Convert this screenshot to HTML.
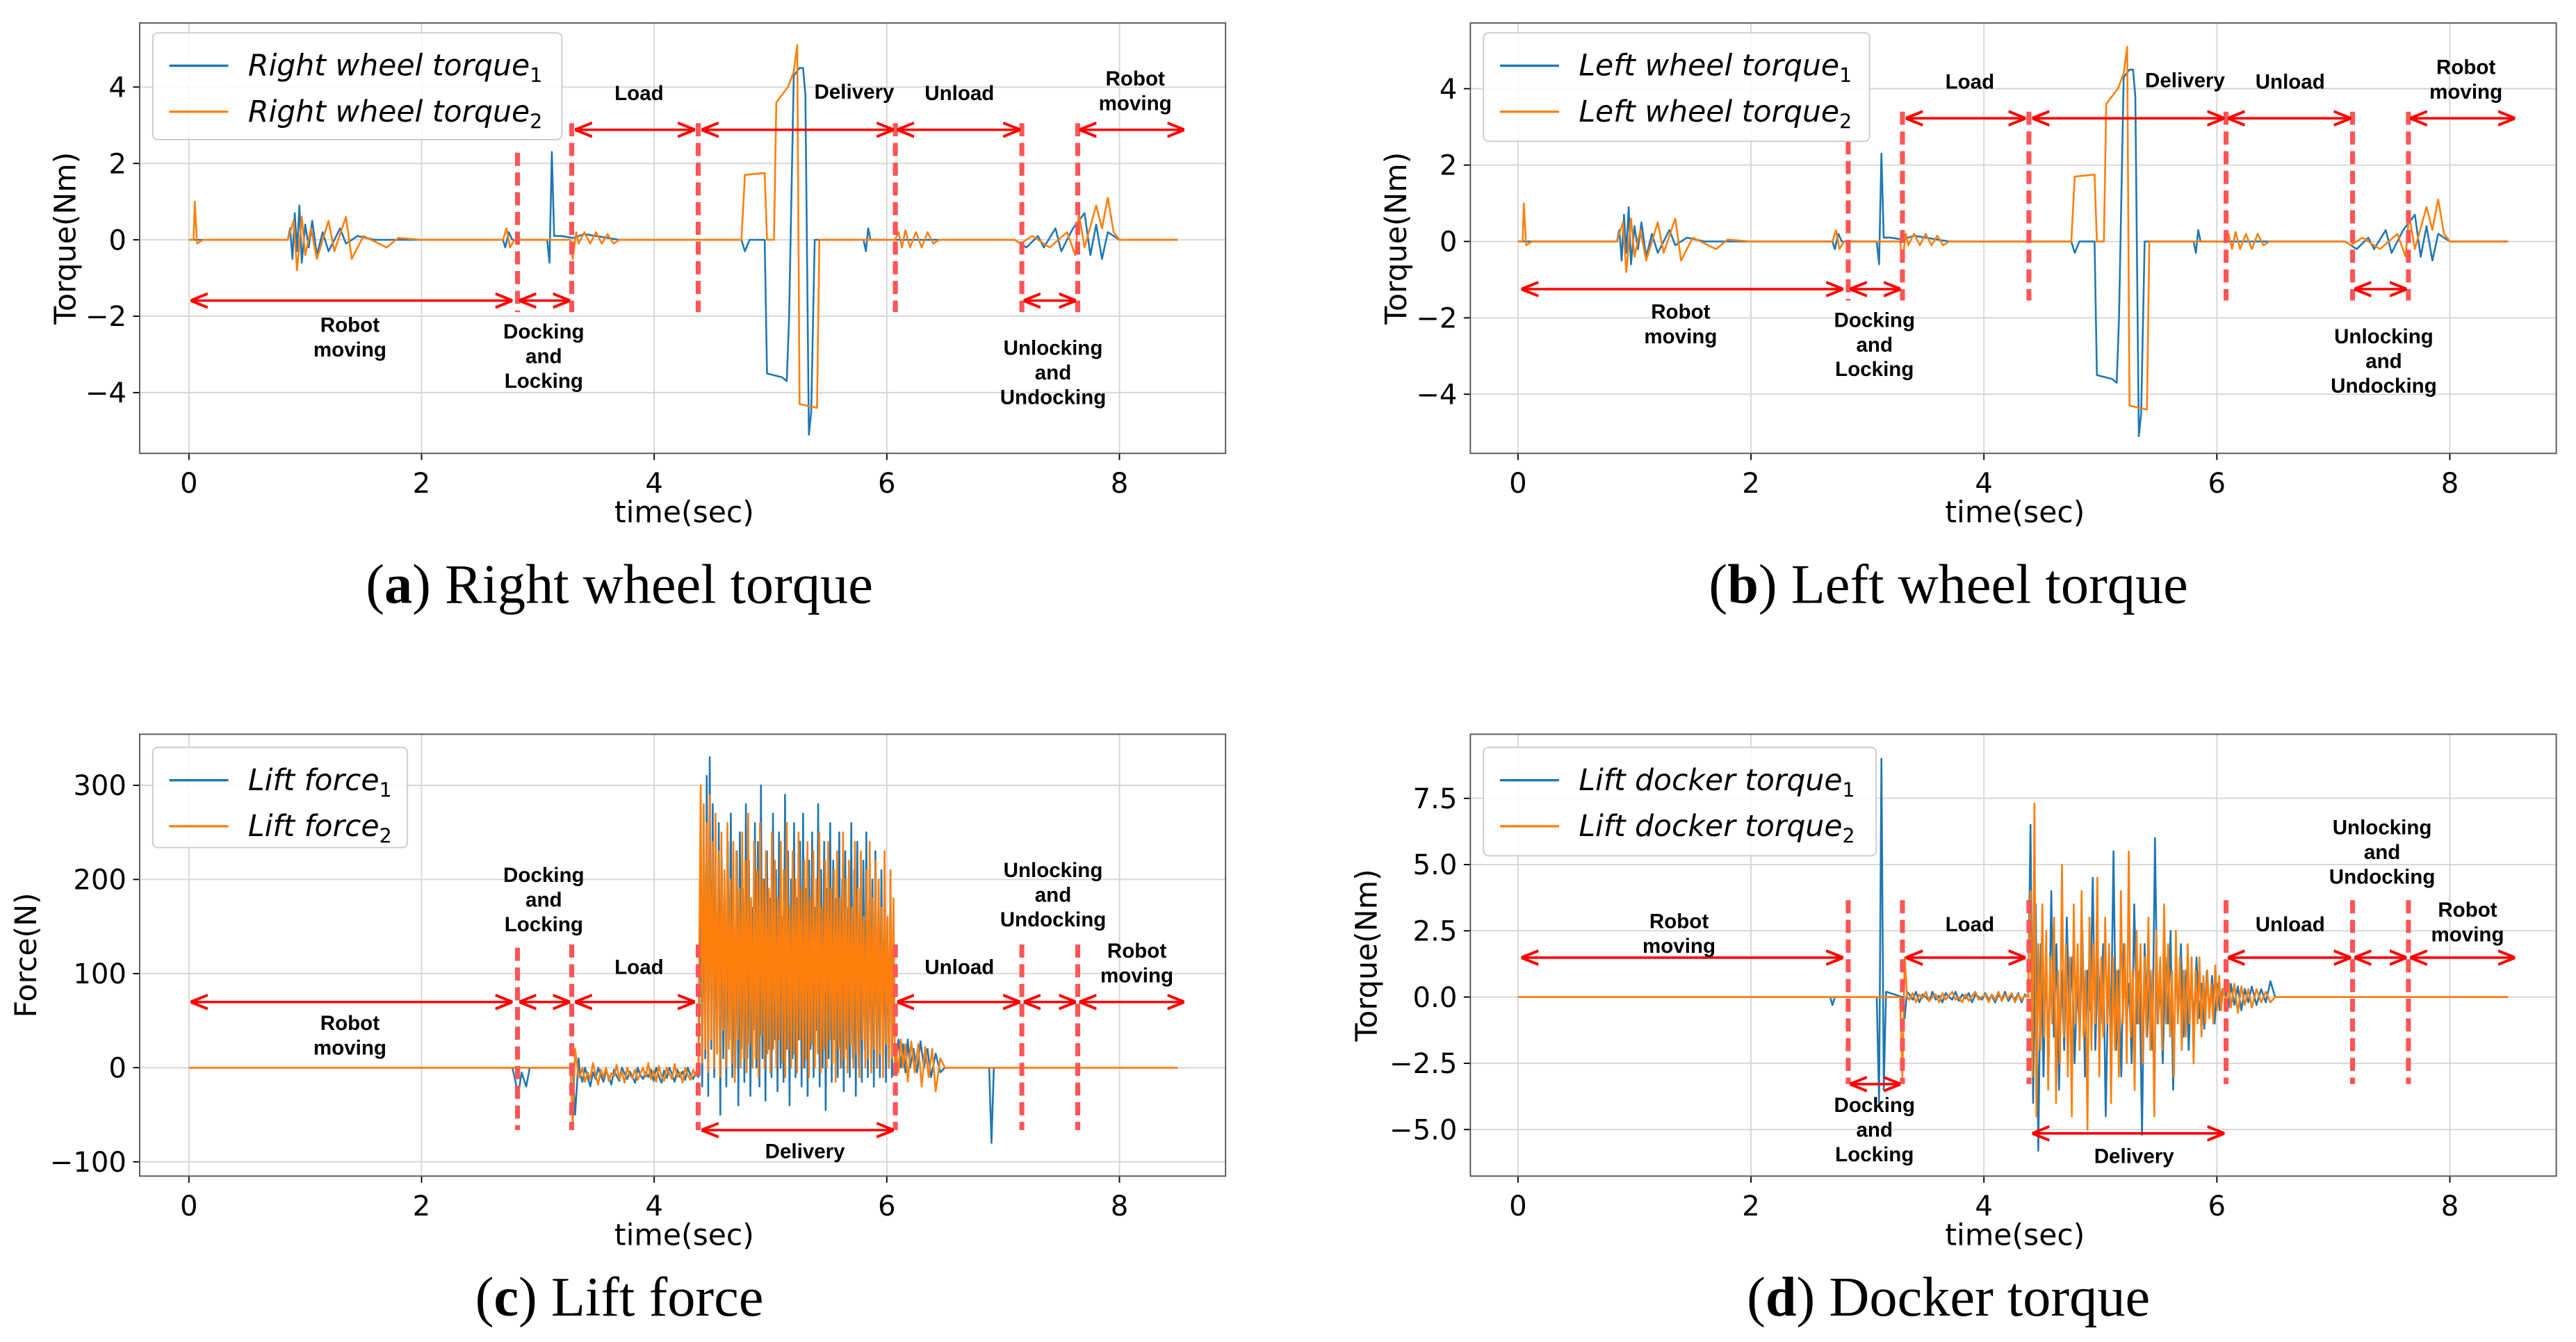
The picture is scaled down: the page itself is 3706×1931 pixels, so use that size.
<!DOCTYPE html>
<html><head><meta charset="utf-8"><style>
html,body{margin:0;padding:0;background:#fff;}
svg{display:block;}
</style></head><body>
<svg id="fig" width="3706" height="1931" viewBox="0 0 1568 817" preserveAspectRatio="none" xmlns="http://www.w3.org/2000/svg">
<defs>
<marker id="ah" viewBox="0 0 10 10" refX="9" refY="5" markerWidth="7" markerHeight="7" orient="auto-start-reverse"><path d="M0,1 L10,5 L0,9" fill="none" stroke="#f00" stroke-width="1.6"/></marker>
</defs>
<g id="root"></g>
<text x="377" y="367" font-family="Liberation Serif, serif" font-size="34" text-anchor="middle">(<tspan font-weight="bold">a</tspan>) Right wheel torque</text>
<text x="1186" y="367" font-family="Liberation Serif, serif" font-size="34" text-anchor="middle">(<tspan font-weight="bold">b</tspan>) Left wheel torque</text>
<text x="377" y="801" font-family="Liberation Serif, serif" font-size="34" text-anchor="middle">(<tspan font-weight="bold">c</tspan>) Lift force</text>
<text x="1186" y="801" font-family="Liberation Serif, serif" font-size="34" text-anchor="middle">(<tspan font-weight="bold">d</tspan>) Docker torque</text>
</svg>
<script>
// ---- data ----
const xTicks = [0, 2, 4, 6, 8];
const wheelYTicks = [-4, -2, 0, 2, 4];
const liftYTicks = [-100, 0, 100, 200, 300];
const dockYTicks = [-5.0, -2.5, 0.0, 2.5, 5.0, 7.5];
const dockYLabels = ["−5.0", "−2.5", "0.0", "2.5", "5.0", "7.5"];

// wheel torque (t, value pairs)
const wheel1 = [0,0, 0.85,0, 0.87,0.3, 0.89,-0.5, 0.91,0.7, 0.93,-0.3, 0.95,0.9, 0.97,-0.6, 1.0,0.4, 1.03,-0.2, 1.06,0.5, 1.1,-0.4, 1.15,0.2, 1.2,-0.3, 1.3,0.3, 1.35,-0.1, 1.45,0.1, 1.6,0, 2.7,0, 2.72,-0.2, 2.75,0.2, 2.78,0, 3.08,0, 3.1,-0.6, 3.12,2.3, 3.14,0.1, 3.2,0.1, 3.3,0.05, 3.4,0.15, 3.5,0.1, 3.7,0, 4.75,0, 4.78,-0.3, 4.82,0, 4.95,0, 4.97,-3.5, 5.1,-3.6, 5.14,-3.7, 5.16,-2.0, 5.2,4.3, 5.25,4.5, 5.28,4.5, 5.3,3.8, 5.33,-5.1, 5.35,-4.5, 5.38,0, 5.8,0, 5.82,-0.3, 5.84,0.3, 5.86,0, 6.1,0, 7.1,0, 7.2,-0.2, 7.3,0.1, 7.35,-0.2, 7.45,0.3, 7.5,-0.3, 7.6,0.3, 7.7,0.7, 7.75,-0.4, 7.8,0.4, 7.85,-0.5, 7.9,0.2, 8.0,0, 8.5,0];
const wheel2 = [0,0, 0.04,0, 0.05,1.0, 0.07,-0.1, 0.12,0, 0.85,0, 0.9,0.5, 0.93,-0.8, 0.97,0.6, 1.0,-0.4, 1.05,0.3, 1.1,-0.5, 1.2,0.5, 1.25,-0.3, 1.35,0.6, 1.4,-0.5, 1.5,0.1, 1.7,-0.2, 1.8,0.05, 2.0,0, 2.7,0, 2.73,0.3, 2.76,-0.2, 2.8,0, 3.28,0, 3.3,-0.5, 3.33,0.2, 3.35,-0.1, 3.4,0.2, 3.45,-0.1, 3.5,0.2, 3.55,-0.1, 3.6,0.15, 3.65,-0.1, 3.7,0, 4.75,0, 4.78,1.7, 4.95,1.75, 4.97,0, 5.03,0, 5.05,3.6, 5.15,4.0, 5.2,4.4, 5.23,5.1, 5.25,-4.3, 5.4,-4.4, 5.42,0, 6.07,0, 6.1,0.2, 6.13,-0.2, 6.16,0.25, 6.2,-0.2, 6.25,0.2, 6.3,-0.2, 6.35,0.2, 6.4,-0.1, 6.45,0, 7.1,0, 7.15,-0.1, 7.25,0.1, 7.4,-0.2, 7.55,0.2, 7.62,-0.4, 7.65,0.7, 7.7,-0.2, 7.8,0.9, 7.85,0.3, 7.9,1.1, 7.95,0.2, 8.0,0, 8.5,0];

// lift force
const liftPre1 = [0,0, 2.78,0, 2.8,-10, 2.83,-30, 2.86,-5, 2.9,-20, 2.93,0, 3.3,0, 3.32,-50, 3.35,10];
const liftPre2 = [0,0, 3.28,0, 3.3,-60, 3.32,20, 3.35,-10];
const liftLoadStart = 3.36, liftLoadEnd = 4.38;
const liftLoad1 = [-5,-15,0,-10,-20,-5,-12,0,-8,-15,-3,-10,-18,-2,-9,-14,0,-6,-12,-4,-10,-16,0,-8,-12,-5,-10,-2,-14,0,-9,-16,-3,-11,0,-7,-15,-2,-10,-4,-13,0,-8,-12,-5,-10];
const liftLoad2 = [-10,0,-15,-5,-12,5,-8,-18,-2,-10,0,-14,-6,-9,3,-12,-4,-16,0,-8,-11,-2,-13,-6,0,-10,5,-12,-3,-15,2,-9,-14,0,-7,-12,4,-10,-5,-16,0,-8,-13,-2,-9,5];
const liftDenseStart = 4.4, liftDenseEnd = 6.07;
const liftDense1 = [200,-20,250,10,310,-30,330,20,280,-10,200,40,260,-50,220,10,180,-20,240,30,270,-10,160,0,230,-40,250,20,190,-15,280,10,220,-30,170,40,260,0,240,-20,300,10,200,-35,230,20,180,-10,270,30,210,-25,250,0,160,-15,290,20,230,-40,200,10,260,-10,180,30,240,-20,270,0,190,-30,220,20,250,-10,170,40,280,-20,210,0,240,-45,190,10,260,-15,220,30,180,-10,250,0,200,-25,230,20,170,-10,260,10,210,-30,240,0,190,-15,220,20,250,-10,180,30,200,-20,230,0,170,-10,210,20,190,-15,160,0,200,-10,150,0];
const liftDense2 = [300,5,280,20,260,-5,290,30,240,0,270,15,230,-10,250,40,210,0,260,20,200,5,240,-15,230,30,190,0,250,10,220,-5,270,25,180,0,240,10,210,-10,260,35,200,0,230,15,190,-5,250,20,220,0,180,30,240,5,210,-10,260,20,170,0,230,15,200,-5,250,30,190,0,220,10,240,-10,180,25,230,0,200,15,250,-5,170,20,220,0,240,30,190,5,210,-15,230,20,180,0,250,10,200,-5,220,25,170,0,240,15,190,-10,230,30,160,0,210,10,240,-5,180,20,220,0,200,15,170,-10,230,25,160,0,210,10,180,0];
const liftPost1 = [6.08,10, 6.1,30, 6.12,0, 6.14,25, 6.16,-5, 6.18,30, 6.2,0, 6.23,20, 6.26,-5, 6.29,28, 6.32,0, 6.35,20, 6.38,-10, 6.42,15, 6.46,-5, 6.5,0, 6.88,0, 6.9,-80, 6.92,0, 8.5,0];
const liftPost2 = [6.08,20, 6.1,-5, 6.12,30, 6.14,0, 6.16,25, 6.18,-15, 6.21,28, 6.24,-5, 6.27,25, 6.3,-20, 6.33,22, 6.36,-10, 6.39,20, 6.42,-25, 6.46,10, 6.5,0, 8.5,0];

// docker torque
const dockPre1 = [0,0, 2.68,0, 2.7,-0.3, 2.72,0, 3.08,0, 3.1,-4.0, 3.12,9.0, 3.14,-3.5, 3.16,0.2, 3.3,0, 3.32,-0.8, 3.34,0.2];
const dockPre2 = [0,0, 3.28,0, 3.3,-3.0, 3.32,1.5, 3.34,0];
const dockLoadStart = 3.36, dockLoadEnd = 4.38;
const dockLoad1 = [0.1,-0.1,0.2,-0.2,0.1,0,-0.15,0.2,-0.1,0.05,-0.2,0.15,0,-0.1,0.2,-0.15,0.1,-0.05,0.15,-0.2,0.1,0,-0.1,0.15,-0.1,0.05,-0.2,0.1,-0.1,0.2,-0.15,0.05,-0.1,0.15,-0.2,0.1,0];
const dockLoad2 = [-0.1,0.15,-0.2,0.1,-0.05,0.2,-0.15,0,0.1,-0.2,0.15,-0.1,0.05,0.2,-0.1,0,-0.2,0.1,-0.15,0.05,0.2,-0.1,0,0.1,-0.2,0.1,-0.1,0.2,-0.15,0.1,-0.05,0.15,-0.2,0.1,-0.1,0.05,0];
const dockDenseStart = 4.4, dockDenseEnd = 6.07;
const dockDense1 = [6.5,-4.0,3.5,-5.8,2.0,-3.0,1.5,-2.5,4.0,-1.5,2.0,-3.5,1.0,-2.0,3.0,-1.0,1.5,-2.5,0.5,-1.5,2.5,-3.0,1.0,-0.5,4.5,-2.0,1.5,-1.0,2.0,-4.5,0.8,-1.5,5.5,-2.0,1.0,-3.0,2.0,-1.0,0.5,-2.5,3.5,-1.0,1.0,-5.2,2.0,-1.5,1.0,-2.0,6.0,-1.0,0.5,-2.5,1.5,-1.0,2.5,-3.5,1.0,-0.5,2.0,-1.5,1.0,-2.0,0.8,-1.0,1.5,-0.8,0.5,-1.2,1.0,-0.6,0.8,-1.0,0.5,-0.5,0.3,0];
const dockDense2 = [4.0,-3.0,7.3,-4.5,2.0,-2.0,3.5,-1.5,2.5,-3.5,1.5,-1.0,3.0,-4.0,1.0,-2.5,5.0,-1.5,2.0,-3.0,1.5,-4.5,3.5,-1.0,2.0,-2.0,4.0,-1.5,1.0,-5.0,3.0,-2.0,2.0,-1.0,4.5,-3.0,1.5,-1.5,3.0,-1.0,2.0,-4.0,1.5,-2.0,1.0,-3.0,4.0,-1.0,2.0,-2.5,5.5,-1.5,1.0,-3.5,2.5,-1.0,2.0,-2.5,1.5,-1.5,3.0,-2.0,1.0,-4.5,2.5,-1.0,1.5,-2.0,3.5,-1.0,2.0,-1.5,1.0,-3.0,2.5,-1.0,1.5,-2.0,1.0,-1.5,2.0,-1.0,1.5,-2.5,1.0,-1.0,1.5,-1.5,0.8,-1.0,1.0,-0.8,0.5,-1.0,1.2,-0.5,0.8,-0.5,0.3,0];
const dockPost1 = [6.08,0.3, 6.1,-0.4, 6.12,0.5, 6.15,-0.3, 6.18,0.4, 6.21,-0.5, 6.24,0.3, 6.27,-0.2, 6.3,0.4, 6.34,-0.3, 6.38,0.3, 6.42,-0.2, 6.46,0.6, 6.5,0, 8.5,0];
const dockPost2 = [6.08,-0.5, 6.1,0.6, 6.12,-0.4, 6.15,0.5, 6.18,-0.6, 6.21,0.4, 6.24,-0.3, 6.27,0.3, 6.3,-0.4, 6.34,0.3, 6.38,-0.2, 6.42,0.2, 6.46,-0.2, 6.5,0, 8.5,0];

// ---- drawing ----
const NS = "http://www.w3.org/2000/svg";
const root = document.getElementById("root");
const BLUE = "#1f77b4", ORANGE = "#ff7f0e";
function mk(tag, attrs, parent) {
  const e = document.createElementNS(NS, tag);
  for (const k in attrs) e.setAttribute(k, attrs[k]);
  (parent || root).appendChild(e);
  return e;
}
function spanToPairs(t0, t1, vals) {
  const out = [];
  const dt = (t1 - t0) / (vals.length - 1);
  vals.forEach((v, i) => { out.push(t0 + dt * i, v); });
  return out;
}
function pathFromPairs(pairs, sx, sy) {
  let d = "";
  for (let i = 0; i < pairs.length; i += 2) d += (i ? "L" : "M") + sx(pairs[i]).toFixed(2) + "," + sy(pairs[i + 1]).toFixed(2);
  return d;
}

function panel(cfg) {
  const g = mk("g", {});
  
  
  const sx = t => cfg.x0 + t * cfg.px;
  const sy = v => cfg.yz - v * cfg.py;
  xTicks.forEach(t => {
    const l = mk("line", {x1: sx(t), x2: sx(t), y1: cfg.top, y2: cfg.bot, stroke: "#d6d6d6", "stroke-width": 0.8}, g);
    
    
    const tk = mk("line", {x1: sx(t), x2: sx(t), y1: cfg.bot, y2: cfg.bot + 4, stroke: "#000", "stroke-width": 0.8}, g);
    
    
    const tx = mk("text", {x: sx(t), y: cfg.bot + 24, "text-anchor": "middle", "font-size": 17, "font-family": "DejaVu Sans, Liberation Sans, sans-serif"}, g);
    tx.textContent = t;
    
    
  });
  cfg.yTicks.forEach((v, i) => {
    const l = mk("line", {x1: cfg.left, x2: cfg.right, y1: sy(v), y2: sy(v), stroke: "#d6d6d6", "stroke-width": 0.8}, g);
    
    
    const tk = mk("line", {x1: cfg.left - 4, x2: cfg.left, y1: sy(v), y2: sy(v), stroke: "#000", "stroke-width": 0.8}, g);
    
    
    const tx = mk("text", {x: cfg.left - 8, y: sy(v) + 6, "text-anchor": "end", "font-size": 17, "font-family": "DejaVu Sans, Liberation Sans, sans-serif"}, g);
    tx.textContent = cfg.yLabels ? cfg.yLabels[i] : String(v).replace("-", "−");
    
    
  });
  cfg.series.forEach(s => {
    const p = mk("path", {d: pathFromPairs(s.pairs, sx, sy), fill: "none", stroke: s.color, "stroke-width": s.w || 1.1, "stroke-linejoin": "round"}, g);
    
    
  });
  const fr = mk("rect", {x: cfg.left, y: cfg.top, width: cfg.right - cfg.left, height: cfg.bot - cfg.top, fill: "none", stroke: "#555", "stroke-width": 0.8}, g);
  
  
  const xl = mk("text", {x: (cfg.left + cfg.right) / 2 + 1, y: cfg.bot + 42, "text-anchor": "middle", "font-size": 18, "font-family": "DejaVu Sans, Liberation Sans, sans-serif"}, g);
  xl.textContent = "time(sec)";
  
  
  const yc = (cfg.top + cfg.bot) / 2;
  const yl = mk("text", {x: cfg.ylx, y: yc, "text-anchor": "middle", "font-size": 18, "font-family": "DejaVu Sans, Liberation Sans, sans-serif", transform: "rotate(-90 " + cfg.ylx + " " + yc + ")"}, g);
  yl.textContent = cfg.ylabel;
  
  
  cfg.vlines.forEach(v => {
    const l = mk("line", {x1: v[0], x2: v[0], y1: v[1], y2: v[2], stroke: "#f55", "stroke-width": 3, "stroke-dasharray": "8,4"}, g);
    
    
  });
  cfg.arrows.forEach(a => {
    const l = mk("line", {x1: a[0], x2: a[1], y1: a[2], y2: a[2], stroke: "#f00", "stroke-width": 1.5, "marker-start": "url(#ah)", "marker-end": "url(#ah)"}, g);
    
    
  });
  cfg.notes.forEach(n => {
    n[2].forEach((line, i) => {
      const t = mk("text", {x: n[0], y: n[1] + i * 15, "text-anchor": "middle", "font-size": 12.5, "font-weight": "bold", "font-family": "Liberation Sans, sans-serif"}, g);
      t.textContent = line;
      
      
    });
  });
  const L = cfg.legend;
  const lb = mk("rect", {x: L.x, y: L.y, width: L.w, height: L.h, rx: 3, fill: "#fff", "fill-opacity": 0.85, stroke: "#ccc", "stroke-width": 0.8}, g);
  
  
  [[BLUE, 1], [ORANGE, 2]].forEach((c, i) => {
    const yy = L.y + 20 + i * 28;
    const ln = mk("line", {x1: L.x + 10, x2: L.x + 46, y1: yy, y2: yy, stroke: c[0], "stroke-width": 1.4}, g);
    
    
    const t = mk("text", {x: L.x + 58, y: yy + 6, "font-size": 18, "font-style": "italic", "font-family": "DejaVu Sans, Liberation Sans, sans-serif"}, g);
    t.textContent = L.label;
    const sub = mk("tspan", {"font-size": 12, dy: 4, "font-style": "normal"}, t);
    sub.textContent = c[1];
    
    
  });
}

const liftS1 = liftPre1.concat(spanToPairs(liftLoadStart, liftLoadEnd, liftLoad1), spanToPairs(liftDenseStart, liftDenseEnd, liftDense1), liftPost1);
const liftS2 = liftPre2.concat(spanToPairs(liftLoadStart, liftLoadEnd, liftLoad2), spanToPairs(liftDenseStart, liftDenseEnd, liftDense2), liftPost2);
const dockS1 = dockPre1.concat(spanToPairs(dockLoadStart, dockLoadEnd, dockLoad1), spanToPairs(dockDenseStart, dockDenseEnd, dockDense1), dockPost1);
const dockS2 = dockPre2.concat(spanToPairs(dockLoadStart, dockLoadEnd, dockLoad2), spanToPairs(dockDenseStart, dockDenseEnd, dockDense2), dockPost2);

function topNotes(dx, dy) {
  return [
    [389 + dx, 61 + dy, ["Load"]], [520 + dx, 60 + dy, ["Delivery"]], [584 + dx, 61 + dy, ["Unload"]],
    [691 + dx, 52 + dy, ["Robot", "moving"]]
  ];
}

panel({name: "panel-a-right-wheel", x0: 115, px: 70.8, yz: 146, py: 23.25, left: 85, right: 746, top: 14, bot: 276, ylx: 46,
  yTicks: wheelYTicks, ylabel: "Torque(Nm)",
  series: [{name: "right-wheel-torque-1", color: BLUE, pairs: wheel1}, {name: "right-wheel-torque-2", color: ORANGE, pairs: wheel2}],
  vlines: [[315, 93, 190], [348, 75, 190], [425, 75, 190], [545, 75, 190], [622, 75, 190], [656, 75, 190]],
  arrows: [[117, 311, 183], [317, 346, 183], [351, 422, 79], [428, 543, 79], [547, 620, 79], [624, 654, 183], [658, 720, 79]],
  notes: topNotes(0, 0).concat([[213, 202, ["Robot", "moving"]], [331, 206, ["Docking", "and", "Locking"]], [641, 216, ["Unlocking", "and", "Undocking"]]]),
  legend: {x: 93, y: 20, w: 249, h: 65, label: "Right wheel torque"}});

panel({name: "panel-b-left-wheel", x0: 924, px: 70.9, yz: 147, py: 23.25, left: 895, right: 1556, top: 14, bot: 276, ylx: 856,
  yTicks: wheelYTicks, ylabel: "Torque(Nm)",
  series: [{name: "left-wheel-torque-1", color: BLUE, pairs: wheel1}, {name: "left-wheel-torque-2", color: ORANGE, pairs: wheel2}],
  vlines: [[1125, 86, 183], [1158, 68, 183], [1235, 68, 183], [1355, 68, 183], [1432, 68, 183], [1466, 68, 183]],
  arrows: [[927, 1121, 176], [1127, 1156, 176], [1161, 1232, 72], [1238, 1353, 72], [1357, 1430, 72], [1434, 1464, 176], [1468, 1530, 72]],
  notes: topNotes(810, -7).concat([[1023, 194, ["Robot", "moving"]], [1141, 199, ["Docking", "and", "Locking"]], [1451, 209, ["Unlocking", "and", "Undocking"]]]),
  legend: {x: 903, y: 20, w: 235, h: 66, label: "Left wheel torque"}});

panel({name: "panel-c-lift-force", x0: 115, px: 70.8, yz: 650, py: 0.573, left: 85, right: 746, top: 447, bot: 716, ylx: 22,
  yTicks: liftYTicks, ylabel: "Force(N)",
  series: [{name: "lift-force-1", color: BLUE, pairs: liftS1}, {name: "lift-force-2", color: ORANGE, pairs: liftS2}],
  vlines: [[315, 577, 688], [348, 575, 688], [425, 575, 688], [545, 575, 688], [622, 575, 688], [656, 575, 688]],
  arrows: [[117, 311, 610], [317, 346, 610], [351, 422, 610], [428, 543, 688], [547, 620, 610], [624, 654, 610], [658, 720, 610]],
  notes: [[213, 627, ["Robot", "moving"]], [331, 537, ["Docking", "and", "Locking"]], [389, 593, ["Load"]], [490, 705, ["Delivery"]], [584, 593, ["Unload"]], [641, 534, ["Unlocking", "and", "Undocking"]], [692, 583, ["Robot", "moving"]]],
  legend: {x: 93, y: 455, w: 155, h: 61, label: "Lift force"}});

panel({name: "panel-d-docker-torque", x0: 924, px: 70.9, yz: 607, py: 16.13, left: 895, right: 1556, top: 447, bot: 716, ylx: 838,
  yTicks: dockYTicks, yLabels: dockYLabels, ylabel: "Torque(Nm)",
  series: [{name: "docker-torque-1", color: BLUE, pairs: dockS1}, {name: "docker-torque-2", color: ORANGE, pairs: dockS2}],
  vlines: [[1125, 548, 660], [1158, 548, 660], [1235, 548, 660], [1355, 548, 660], [1432, 548, 660], [1466, 548, 660]],
  arrows: [[927, 1121, 583], [1127, 1156, 660], [1161, 1232, 583], [1238, 1353, 690], [1357, 1430, 583], [1434, 1464, 583], [1468, 1530, 583]],
  notes: [[1022, 565, ["Robot", "moving"]], [1141, 677, ["Docking", "and", "Locking"]], [1199, 567, ["Load"]], [1299, 708, ["Delivery"]], [1394, 567, ["Unload"]], [1450, 508, ["Unlocking", "and", "Undocking"]], [1502, 558, ["Robot", "moving"]]],
  legend: {x: 903, y: 455, w: 239, h: 66, label: "Lift docker torque"}});
</script>
</body></html>
